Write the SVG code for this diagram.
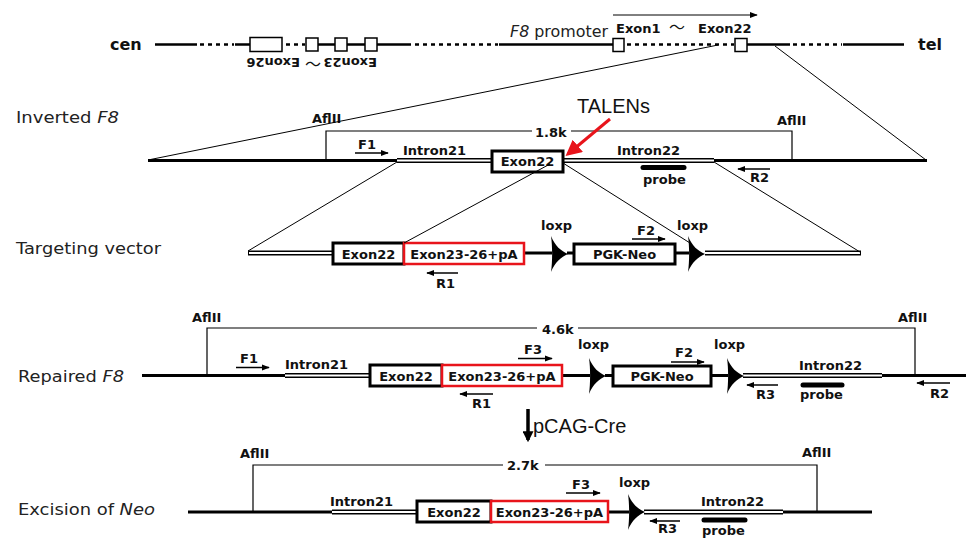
<svg xmlns="http://www.w3.org/2000/svg" width="966" height="539" viewBox="0 0 966 539">
<style>
.thick{stroke:#000;stroke-width:3;fill:none}
.chr{stroke:#000;stroke-width:2.5;fill:none}
.dot{stroke:#000;stroke-width:2.5;stroke-dasharray:4 4;fill:none}
.dblo{stroke:#000;stroke-width:5;fill:none}
.dbli{stroke:#fff;stroke-width:2;fill:none}
.box{fill:#fff;stroke:#000;stroke-width:3}
.rbox{fill:#fff;stroke:#e8141b;stroke-width:2.5}
.sbox{fill:#fff;stroke:#000;stroke-width:1.5}
.thin{stroke:#000;stroke-width:1.2;fill:none}
.conn{stroke:#000;stroke-width:1;fill:none}
.primer{stroke:#000;stroke-width:1.5;fill:none;marker-end:url(#ah)}
.probe{stroke:#000;stroke-width:5;stroke-linecap:round}
.b{font-family:'DejaVu Sans',Verdana,sans-serif;font-weight:bold;font-size:13px;fill:#111}
.bc{font-family:'DejaVu Sans',Verdana,sans-serif;font-weight:bold;font-size:13px;fill:#111;text-anchor:middle}
.big{font-family:'DejaVu Sans',Verdana,sans-serif;font-weight:bold;font-size:16px;fill:#111}
.lbl{font-family:'DejaVu Sans',Verdana,sans-serif;font-size:16px;fill:#222}
.ar{font-family:'Liberation Sans',Arial,sans-serif;font-size:20px;fill:#111}
.tl{font-family:'DejaVu Sans','Noto Sans CJK JP',sans-serif;font-weight:bold;font-size:13px;fill:#111}
.tld{font-family:'Noto Sans CJK JP',sans-serif;font-size:16px;fill:#111}
</style>
<defs>
<marker id="ah" viewBox="0 0 10 10" refX="9" refY="5" markerWidth="8" markerHeight="8" markerUnits="userSpaceOnUse" orient="auto"><path d="M0,1 L10,5 L0,9 z" fill="#000"/></marker>
<marker id="ahr" viewBox="0 0 10 10" refX="8" refY="5" markerWidth="16" markerHeight="16" markerUnits="userSpaceOnUse" orient="auto"><path d="M0,0 L10,5 L0,10 z" fill="#e8141b"/></marker>
<marker id="ahb" viewBox="0 0 10 10" refX="8" refY="5" markerWidth="11" markerHeight="11" markerUnits="userSpaceOnUse" orient="auto"><path d="M0,0 L10,5 L0,10 z" fill="#000"/></marker>
<path id="loxp" d="M0,-18 C4,-8 10,-3 17,0 C10,3 4,8 0,18 C1.5,8 1.5,-8 0,-18 Z" fill="#000"/>
</defs>

<!-- Top chromosome -->
<g id="chromosome">
<text class="big" x="110" y="50">cen</text>
<path class="chr" d="M155,44.5H197 M235,44.5H250 M318,44.5H335 M347,44.5H365 M377,44.5H411 M499,44.5H613 M747,44.5H790 M843,44.5H904"/>
<path class="dot" d="M200,44.5H234 M286,44.5H305 M415,44.5H498 M627,44.5H734 M793,44.5H842"/>
<rect class="sbox" x="250" y="37.5" width="32" height="14"/>
<rect class="sbox" x="306" y="38" width="12" height="13"/>
<rect class="sbox" x="335" y="38" width="12" height="13"/>
<rect class="sbox" x="365" y="38" width="12" height="13"/>
<rect class="sbox" x="613" y="38.5" width="11" height="13"/>
<rect class="sbox" x="735" y="38.5" width="12" height="13"/>
<text class="big" x="918" y="50">tel</text>
<g transform="rotate(180 312 62)">
<text class="tl" x="247" y="66">Exon23</text>
<text class="tld" x="303" y="66">～</text>
<text class="tl" x="324" y="66">Exon26</text>
</g>
<text class="lbl" x="510" y="37" font-size="13" textLength="98" lengthAdjust="spacingAndGlyphs"><tspan font-style="italic">F8</tspan> promoter</text>
<text class="tl" x="616" y="33">Exon1</text>
<text class="tld" x="669" y="33">～</text>
<text class="tl" x="698" y="33">Exon22</text>
<line class="conn" x1="613" y1="15" x2="757" y2="15" marker-end="url(#ah)"/>
</g>

<!-- Inverted F8 -->
<g id="inverted-f8">
<text class="lbl" x="16" y="123" textLength="103" lengthAdjust="spacingAndGlyphs">Inverted <tspan font-style="italic">F8</tspan></text>
<path class="thin" d="M326,160V131H532 M571,131H792V160"/>
<text class="b" x="535" y="137">1.8k</text>
<text class="b" x="312" y="123">AflII</text>
<text class="b" x="777" y="125">AflII</text>
<path class="thick" d="M148,160.5H397 M714,160.5H927"/>
<path class="dblo" d="M397,160.5H492 M563,160.5H714"/>
<path class="dbli" d="M397,160.5H492 M563,160.5H714"/>
<rect class="box" x="492" y="151" width="71" height="21"/>
<text class="bc" x="527.5" y="166">Exon22</text>
<line class="primer" x1="355" y1="153" x2="388" y2="153"/>
<text class="b" x="358" y="149">F1</text>
<text class="b" x="403" y="155">Intron21</text>
<text class="b" x="617" y="155">Intron22</text>
<line class="probe" x1="643" y1="167.5" x2="684" y2="167.5"/>
<text class="b" x="643" y="184">probe</text>
<line class="primer" x1="770" y1="169" x2="738" y2="169"/>
<text class="b" x="750" y="182">R2</text>
<text class="ar" x="577" y="113">TALENs</text>
<line x1="610" y1="119" x2="568" y2="154" stroke="#e8141b" stroke-width="3" marker-end="url(#ahr)"/>
</g>

<!-- Targeting vector -->
<g id="targeting-vector">
<text class="lbl" x="16" y="254" textLength="145" lengthAdjust="spacingAndGlyphs">Targeting vector</text>
<path class="dblo" d="M248,253H333 M705,253H861"/>
<path class="dbli" d="M249,253H333 M705,253H860"/>
<path class="thick" d="M524,253H552 M567,253H574 M675,253H689"/>
<rect class="box" x="333" y="243" width="71" height="21"/>
<rect class="rbox" x="404" y="243" width="120" height="21"/>
<rect class="box" x="574" y="244" width="101" height="20"/>
<use href="#loxp" x="551" y="254"/>
<use href="#loxp" x="688" y="254"/>
<text class="bc" x="368.5" y="259">Exon22</text>
<text class="bc" x="464" y="259">Exon23-26+pA</text>
<text class="bc" x="624.5" y="259">PGK-Neo</text>
<text class="b" x="541" y="230">loxp</text>
<text class="b" x="677" y="230">loxp</text>
<text class="b" x="637" y="235">F2</text>
<line class="primer" x1="632" y1="239" x2="665" y2="239"/>
<line class="primer" x1="458" y1="273" x2="427" y2="273"/>
<text class="b" x="436" y="288">R1</text>
</g>

<!-- Repaired F8 -->
<g id="repaired-f8">
<text class="lbl" x="18" y="382" textLength="106" lengthAdjust="spacingAndGlyphs">Repaired <tspan font-style="italic">F8</tspan></text>
<path class="thin" d="M207,375V328H537 M578,328H915V375"/>
<text class="b" x="542" y="334">4.6k</text>
<text class="b" x="192" y="322">AflII</text>
<text class="b" x="898" y="322">AflII</text>
<path class="thick" d="M142,375.5H285 M562,375.5H590 M605,375.5H613 M711,375.5H728 M882,375.5H966"/>
<path class="dblo" d="M285,375.5H370 M743,375.5H882"/>
<path class="dbli" d="M285,375.5H370 M743,375.5H882"/>
<rect class="box" x="370" y="365" width="72" height="21"/>
<rect class="rbox" x="442" y="365" width="120" height="21"/>
<rect class="box" x="613" y="366" width="98" height="20"/>
<use href="#loxp" x="589" y="376"/>
<use href="#loxp" x="727" y="376"/>
<text class="bc" x="406" y="381">Exon22</text>
<text class="bc" x="502" y="381">Exon23-26+pA</text>
<text class="bc" x="662" y="381">PGK-Neo</text>
<line class="primer" x1="236" y1="367.5" x2="269" y2="367.5"/>
<text class="b" x="240" y="363">F1</text>
<text class="b" x="285" y="369">Intron21</text>
<line class="primer" x1="518" y1="358.5" x2="552" y2="358.5"/>
<text class="b" x="524" y="354">F3</text>
<text class="b" x="578" y="349">loxp</text>
<line class="primer" x1="671" y1="362" x2="704" y2="362"/>
<text class="b" x="675" y="357">F2</text>
<text class="b" x="714" y="349">loxp</text>
<text class="b" x="799" y="370">Intron22</text>
<line class="probe" x1="803" y1="385" x2="842" y2="385"/>
<text class="b" x="800" y="399">probe</text>
<line class="primer" x1="778" y1="385" x2="747" y2="385"/>
<text class="b" x="756" y="399">R3</text>
<line class="primer" x1="950" y1="383" x2="917" y2="383"/>
<text class="b" x="930" y="398">R2</text>
<line class="primer" x1="493" y1="394" x2="460" y2="394"/>
<text class="b" x="472" y="408">R1</text>
</g>

<!-- pCAG-Cre step -->
<g id="cre-step">
<line x1="528" y1="409" x2="528" y2="440" stroke="#000" stroke-width="3.5" marker-end="url(#ahb)"/>
<text class="ar" x="533" y="433">pCAG-Cre</text>
</g>

<!-- Excision of Neo -->
<g id="excision">
<text class="lbl" x="18" y="515" textLength="137" lengthAdjust="spacingAndGlyphs">Excision of <tspan font-style="italic">Neo</tspan></text>
<path class="thin" d="M253,512V465H503 M545,465H817V512"/>
<text class="b" x="507" y="470">2.7k</text>
<text class="b" x="240" y="458">AflII</text>
<text class="b" x="802" y="457">AflII</text>
<path class="thick" d="M188,512H332 M608,512H629 M783,512H872"/>
<path class="dblo" d="M332,512H417 M644,512H783"/>
<path class="dbli" d="M332,512H417 M644,512H783"/>
<rect class="box" x="417" y="501" width="74" height="21"/>
<rect class="rbox" x="491" y="501" width="117" height="21"/>
<use href="#loxp" x="628" y="512"/>
<text class="bc" x="454" y="517">Exon22</text>
<text class="bc" x="549.5" y="517">Exon23-26+pA</text>
<text class="b" x="330" y="506">Intron21</text>
<line class="primer" x1="566" y1="493" x2="600" y2="493"/>
<text class="b" x="572" y="489">F3</text>
<text class="b" x="619" y="487">loxp</text>
<text class="b" x="701" y="506">Intron22</text>
<line class="probe" x1="704" y1="520" x2="745" y2="520"/>
<text class="b" x="702" y="535">probe</text>
<line class="primer" x1="680" y1="521" x2="650" y2="521"/>
<text class="b" x="658" y="533">R3</text>
</g>

<!-- Connectors (zoom lines) -->
<g id="connectors">
<line class="conn" x1="718" y1="45" x2="148" y2="160"/>
<line class="conn" x1="775" y1="46" x2="926" y2="160"/>
<line class="conn" x1="397" y1="162" x2="248" y2="251"/>
<line class="conn" x1="550" y1="164" x2="404" y2="243"/>
<line class="conn" x1="563" y1="163" x2="690" y2="243"/>
<line class="conn" x1="714" y1="162" x2="860" y2="252"/>
</g>
</svg>
